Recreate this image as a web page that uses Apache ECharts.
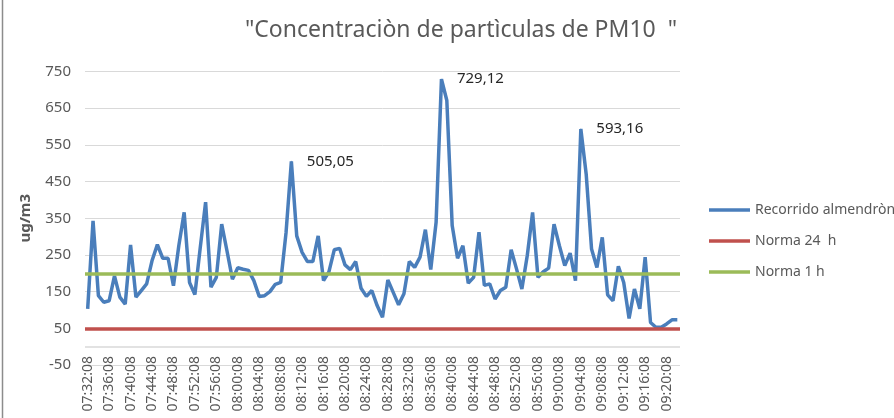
<!DOCTYPE html>
<html>
<head>
<meta charset="utf-8">
<script src="https://cdn.jsdelivr.net/npm/echarts@6/dist/echarts.min.js"></script>
<style>
  html, body { margin: 0; padding: 0; background: #fff; }
  #root { width: 894px; height: 418px; }
</style>
</head>
<body>
<div id="root"></div>
<script>
// horas de muestreo, una por minuto desde 07:32:08
var startMin = 7 * 60 + 32;
var nPoints = 111;
var times = [];
for (var m = 0; m < nPoints; m++) {
  var t = startMin + m;
  var hh = Math.floor(t / 60), mm = t % 60;
  times.push((hh < 10 ? '0' : '') + hh + ':' + (mm < 10 ? '0' : '') + mm + ':08');
}

// PM10 medido en el recorrido (ug/m3)
var recorrido = [
  103, 343, 139, 121, 125, 193, 135, 116, 277, 135,
  153, 171, 234, 278, 241, 241, 166, 275, 366, 175,
  142, 270, 394, 162, 189, 334, 260, 184, 215, 211,
  208, 180, 137, 139, 150, 170, 175, 310, 505.05, 302,
  257, 232, 232, 302, 180, 204, 264, 268, 223, 210,
  232, 159, 137, 153, 112, 80, 182, 148, 114, 144,
  232, 216, 244, 319, 210, 339, 729.12, 671, 330, 241,
  275, 173, 189, 312, 167, 171, 130, 153, 162, 264,
  212, 157, 248, 366, 189, 204, 214, 334, 275, 221,
  255, 180, 593.16, 470, 266, 216, 298, 141, 125, 219,
  175, 77, 157, 103, 244, 66, 53, 53, 62, 73,
  73
];
// puntos con etiqueta de valor
var picos = [38, 66, 92];
// normas
var norma24 = 50;
var norma1 = 200;

var gray = '#595959';
var font = 'Noto Sans';
var azul = '#4a7ebb';

var dom = document.getElementById('root');
var myChart = echarts.init(dom, null, { renderer: 'canvas' });

var serieData = recorrido.map(function (v, i) {
  if (picos.indexOf(i) < 0) return v;
  return { value: v, symbol: 'circle', symbolSize: 1, label: { show: true } };
});

var option = {
  animation: false,
  backgroundColor: '#fff',
  title: {
    text: '"Concentraciòn de partìculas de PM10  "',
    left: 456,
    textAlign: 'center',
    top: 14,
    textStyle: { fontFamily: font, fontSize: 23, fontWeight: 'normal', color: gray }
  },
  legend: {
    orient: 'vertical',
    left: 704,
    top: 198,
    icon: 'rect',
    itemWidth: 41,
    itemHeight: 3.5,
    itemGap: 17,
    textStyle: { fontFamily: font, fontSize: 14, color: gray }
  },
  grid: { left: 85, right: 214, top: 71.5, bottom: 53 },
  xAxis: {
    type: 'category',
    data: times,
    axisLine: { show: false },
    axisTick: { show: false },
    axisLabel: {
      interval: 3,
      rotate: 90,
      margin: -9,
      fontFamily: font,
      fontSize: 14,
      color: gray
    },
    splitLine: { show: false }
  },
  yAxis: {
    type: 'value',
    min: -50,
    max: 750,
    interval: 100,
    name: 'ug/m3',
    nameLocation: 'middle',
    nameGap: 52,
    nameTextStyle: { fontFamily: font, fontSize: 15, fontWeight: 'bold', color: gray },
    axisLine: { show: false },
    axisTick: { show: false },
    axisLabel: { margin: 14, fontFamily: font, fontSize: 15, color: gray },
    splitLine: { lineStyle: { color: '#d9d9d9', width: 1 } }
  },
  graphic: [
    { type: 'line', shape: { x1: 2.5, y1: 0, x2: 2.5, y2: 418 }, style: { stroke: '#8c8c8c', lineWidth: 1.5 } }
  ],
  series: [
    {
      name: 'Recorrido almendròn',
      type: 'line',
      data: serieData,
      symbol: 'none',
      showSymbol: true,
      showAllSymbol: true,
      lineStyle: { color: azul, width: 3.5 },
      itemStyle: { color: azul },
      label: {
        show: false,
        position: 'right',
        distance: 15,
        fontFamily: font,
        fontSize: 15,
        color: '#262626',
        formatter: function (p) { return String(p.value).replace('.', ','); }
      },
      markLine: {
        silent: true,
        symbol: 'none',
        label: { show: false },
        lineStyle: { color: '#d9d9d9', width: 1.5, type: 'solid' },
        data: [{ yAxis: 0 }]
      },
      z: 2
    },
    {
      name: 'Norma 24  h',
      type: 'line',
      data: [],
      symbol: 'none',
      lineStyle: { color: '#c0504d', width: 3.5 },
      itemStyle: { color: '#c0504d' },
      markLine: {
        silent: true,
        symbol: 'none',
        label: { show: false },
        lineStyle: { color: '#c0504d', width: 3.5, type: 'solid' },
        data: [{ yAxis: norma24 }]
      },
      z: 3
    },
    {
      name: 'Norma 1 h',
      type: 'line',
      data: [],
      symbol: 'none',
      lineStyle: { color: '#9bbb59', width: 3.5 },
      itemStyle: { color: '#9bbb59' },
      markLine: {
        silent: true,
        symbol: 'none',
        label: { show: false },
        lineStyle: { color: '#9bbb59', width: 3.5, type: 'solid' },
        data: [{ yAxis: norma1 }]
      },
      z: 4
    }
  ]
};

myChart.setOption(option);
</script>
</body>
</html>
